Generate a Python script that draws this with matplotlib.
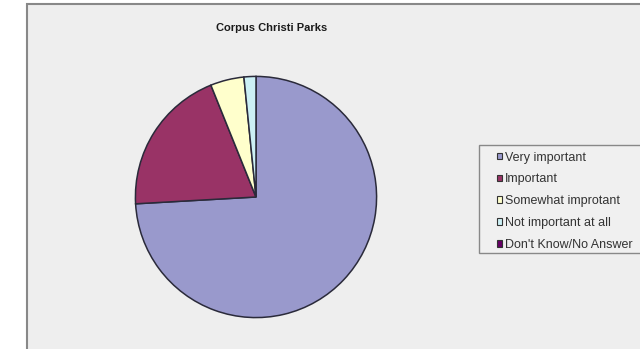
import matplotlib
matplotlib.use("Agg")
import matplotlib.pyplot as plt
from matplotlib.patches import Rectangle, Patch

title = "Corpus Christi Parks"
categories = ["Very important", "Important", "Somewhat improtant",
              "Not important at all", "Don't Know/No Answer"]
values = [74.1, 19.8, 4.5, 1.6, 0.0]
colors = ["#9999CC", "#993366", "#FFFFCC", "#CCF0F5", "#660066"]

W, H = 640, 349
fig = plt.figure(figsize=(W / 100, H / 100), dpi=100)
fig.patch.set_facecolor("white")

# chart area background with frame
fig.patches.append(Rectangle((27 / W, -0.01), 1.0, 1 - 4 / H + 0.01,
                             transform=fig.transFigure, facecolor="#EEEEEE",
                             edgecolor="#888888", linewidth=1.5, zorder=-10))
# legend frame
fig.patches.append(Rectangle((479 / W, 1 - 253 / H), 0.3, (253 - 145) / H,
                             transform=fig.transFigure, facecolor="#F0F0F0",
                             edgecolor="#888888", linewidth=1.0, zorder=-5))

cx, cy, r = 256, 197, 123
ax = fig.add_axes([(cx - r) / W, (H - cy - r) / H, 2 * r / W, 2 * r / H])
ax.set_zorder(1)
ax.set_facecolor("none")
nz = [(v, c) for v, c in zip(values, colors) if v > 0]
ax.pie([v for v, _ in nz], colors=[c for _, c in nz], startangle=90,
       counterclock=False, radius=1.0,
       wedgeprops=dict(edgecolor="#2A2A3A", linewidth=1.1))
ax.set_xlim(-1.02, 1.02)
ax.set_ylim(-1.02, 1.02)
ax.set_aspect("equal")
ax.axis("off")

fig.text(272 / W, 1 - 28 / H, title, ha="center", va="center",
         fontsize=8, fontweight="bold", family="Liberation Sans",
         color="#1A1A1A")

handles = [Patch(facecolor=c, edgecolor="#333333", linewidth=0.8) for c in colors]
leg = fig.legend(handles, categories, loc="upper left",
                 bbox_to_anchor=(494 / W, 1 - 149 / H),
                 frameon=False,
                 handlelength=0.45, handleheight=0.45, handletextpad=0.2,
                 labelspacing=0.79, borderpad=0.2, borderaxespad=0,
                 prop={"family": "Liberation Sans", "size": 9})
leg.set_zorder(2)
for t in leg.get_texts():
    t.set_color("#333333")

fig.savefig("out.png", dpi=100)
